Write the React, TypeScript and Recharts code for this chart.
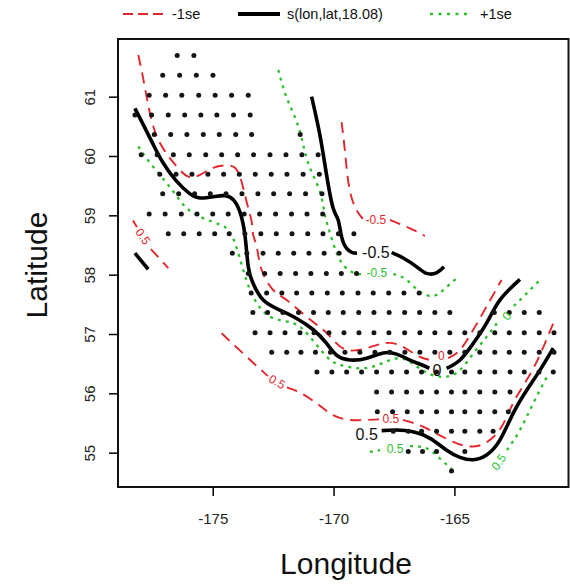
import React from 'react';
import { ComposedChart, XAxis, YAxis, Line, Scatter, ReferenceArea } from 'recharts';

// ---------- data ----------
const xTicks = [-175, -170, -165];
const yTicks = [55, 56, 57, 58, 59, 60, 61];

// survey station rows (latitude of each row, longitudes of stations in that row)
const stationLats = [61.70, 61.37, 61.03, 60.70, 60.37, 60.03, 59.70, 59.37, 59.03, 58.70, 58.37, 58.03, 57.70, 57.37, 57.03, 56.70, 56.37, 56.03, 55.70, 55.37, 55.03, 54.70];
const stationLons: number[][] = [
  [-176.49, -175.80],
  [-177.09, -176.39, -175.70, -175.01],
  [-177.65, -176.97, -176.30, -175.60, -174.92, -174.24, -173.55],
  [-178.24, -177.55, -176.86, -176.18, -175.51, -174.85, -174.16, -173.47],
  [-177.44, -176.76, -176.09, -175.41, -174.75, -174.07, -173.41, -171.40],
  [-177.98, -177.32, -176.65, -175.99, -175.31, -174.65, -173.99, -173.33, -172.65, -171.99, -171.33, -170.66],
  [-177.21, -176.54, -175.88, -175.22, -174.57, -173.92, -173.26, -172.60, -171.95, -171.28, -170.61],
  [-177.09, -176.43, -175.77, -175.12, -174.47, -173.81, -173.15, -172.50, -171.84, -171.18, -170.50],
  [-177.65, -176.99, -176.32, -175.67, -175.02, -174.38, -173.72, -173.08, -172.42, -171.76, -171.12, -170.47],
  [-176.86, -176.22, -175.58, -174.94, -174.34, -173.69, -173.03, -172.39, -171.74, -171.09, -170.46, -169.82, -169.18],
  [-174.21, -173.61, -172.94, -172.31, -171.67, -171.04, -170.41, -169.79],
  [-173.55, -172.87, -172.23, -171.59, -170.96, -170.32, -169.70, -169.07],
  [-173.43, -172.79, -172.16, -171.55, -170.92, -170.28, -169.66, -169.01, -168.38, -167.74, -167.11, -166.48],
  [-173.36, -172.75, -172.12, -171.47, -170.85, -170.24, -169.62, -168.98, -168.35, -167.72, -167.08, -166.46, -165.83, -165.21, -163.37, -162.75, -162.13, -161.51],
  [-173.27, -172.65, -172.03, -171.41, -170.83, -170.21, -169.59, -168.97, -168.35, -167.73, -167.08, -166.45, -165.83, -165.21, -164.59, -163.97, -163.35, -162.75, -162.13, -161.51, -160.90],
  [-172.58, -171.96, -171.37, -170.77, -170.15, -169.55, -168.93, -168.31, -167.69, -167.07, -166.45, -165.83, -165.21, -164.59, -163.97, -163.35, -162.75, -162.13, -161.51, -160.90],
  [-170.71, -170.09, -169.48, -168.86, -168.24, -167.62, -167.00, -166.38, -165.76, -165.14, -164.59, -163.97, -163.35, -162.72, -162.13, -161.52, -160.93],
  [-168.24, -167.62, -167.00, -166.38, -165.76, -165.14, -164.59, -163.97, -163.35, -162.72],
  [-168.21, -167.58, -166.97, -166.38, -165.76, -165.14, -164.59, -163.97, -163.35, -162.79],
  [-167.55, -166.93, -166.38, -165.76, -165.14, -164.59, -163.97, -163.42],
  [-166.93, -166.34, -165.76, -164.59],
  [-165.14],
];

// fitted surface s(lon,lat) contours, [lon, lat]
const fitZeroA = [[-178.24,60.81],[-177.90,60.54],[-177.48,60.20],[-177.07,59.89],[-176.51,59.58],[-175.96,59.37],[-175.55,59.30],[-175.00,59.32],[-174.52,59.34],[-174.17,59.27],[-173.90,59.07],[-173.69,58.68],[-173.55,58.14],[-173.35,57.86],[-172.93,57.58],[-172.24,57.41],[-171.55,57.27],[-170.86,57.08],[-170.31,56.85],[-169.89,56.65],[-169.34,56.57],[-168.65,56.60],[-167.97,56.69],[-167.41,56.67],[-166.86,56.57],[-166.38,56.49],[-166.06,56.43]];
const fitZeroB = [[-165.34,56.43],[-164.79,56.57],[-164.24,56.85],[-163.69,57.19],[-163.14,57.58],[-162.31,57.93]];
const fitMinusHalfA = [[-170.93,61.01],[-170.59,60.37],[-170.31,59.69],[-170.04,59.13],[-169.83,58.93],[-169.69,58.65],[-169.48,58.45],[-169.25,58.38],[-169.05,58.37]];
const fitMinusHalfB = [[-167.62,58.38],[-167.14,58.29],[-166.58,58.14],[-166.17,58.03],[-165.76,58.04],[-165.45,58.14]];
const fitHalfWest = [[-178.24,58.37],[-177.69,58.10]];
const fitHalfSouth = [[-168.03,55.38],[-167.41,55.39],[-166.73,55.36],[-166.03,55.25],[-165.34,55.05],[-164.79,54.93],[-164.24,54.89],[-163.69,54.97],[-163.14,55.22],[-162.59,55.67],[-162.03,56.06],[-161.48,56.40],[-160.93,56.77]];

// -1se contours
const lowerZeroA = [[-178.10,61.71],[-177.90,61.32],[-177.69,60.87],[-177.41,60.42],[-177.00,60.09],[-176.51,59.83],[-176.03,59.66],[-175.55,59.69],[-175.00,59.81],[-174.52,59.85],[-174.10,59.81],[-173.83,59.58],[-173.62,59.24],[-173.41,58.90],[-173.35,58.68],[-173.20,58.48],[-173.00,58.09],[-172.52,57.75],[-171.96,57.58],[-171.14,57.30],[-170.45,57.08],[-170.04,56.91],[-169.48,56.74],[-168.65,56.77],[-167.97,56.85],[-167.28,56.82],[-166.58,56.65],[-166.03,56.57]];
const lowerZeroB = [[-165.28,56.60],[-164.79,56.74],[-164.24,57.08],[-163.69,57.47],[-163.07,57.92]];
const lowerMinusHalfA = [[-169.69,60.58],[-169.55,60.09],[-169.34,59.41],[-169.00,59.05],[-168.81,58.95]];
const lowerMinusHalfB = [[-167.69,58.93],[-166.86,58.79],[-166.24,58.66]];
const lowerHalfWestA = [[-178.32,58.92],[-178.16,58.81]];
const lowerHalfWestB = [[-177.58,58.44],[-176.86,58.12]];
const lowerHalfSouthA = [[-174.65,57.02],[-173.76,56.68],[-172.93,56.37],[-172.74,56.30]];
const lowerHalfSouthB = [[-171.95,56.11],[-171.41,56.02],[-170.72,55.84],[-170.04,55.64],[-169.34,55.56],[-168.65,55.56],[-168.10,55.57]];
const lowerHalfSouthC = [[-167.15,55.56],[-166.45,55.47],[-165.76,55.33],[-165.07,55.19],[-164.52,55.12],[-163.90,55.14],[-163.27,55.33],[-162.86,55.61],[-162.45,55.95],[-161.86,56.35],[-161.36,56.77],[-160.93,57.19]];

// +1se contours
const upperZeroA = [[-178.10,60.17],[-177.76,59.97],[-177.21,59.69],[-176.65,59.41],[-176.10,59.13],[-175.41,58.96],[-174.72,58.85],[-174.38,58.76],[-174.10,58.54],[-173.76,58.09],[-173.35,57.64],[-172.65,57.30],[-171.69,57.19],[-171.00,56.96],[-170.31,56.63],[-169.76,56.49],[-168.93,56.43],[-168.10,56.50],[-167.28,56.60],[-166.58,56.46],[-165.96,56.32],[-165.34,56.29],[-164.79,56.40],[-164.24,56.68],[-163.69,56.96],[-163.22,57.21]];
const upperZeroB = [[-162.56,57.48],[-162.31,57.58],[-161.48,57.92]];
const upperMinusHalfA = [[-172.31,61.46],[-171.96,60.99],[-171.55,60.59],[-171.28,60.20],[-171.00,59.81],[-170.59,59.41],[-170.38,59.02],[-170.17,58.71],[-169.89,58.37],[-169.55,58.14],[-169.14,58.03],[-168.85,58.02]];
const upperMinusHalfB = [[-167.55,58.02],[-167.00,57.92],[-166.45,57.72],[-165.90,57.65],[-165.48,57.75],[-164.93,57.95]];
const upperHalfSouthA = [[-168.52,55.02],[-168.10,55.05]];
const upperHalfSouthB = [[-166.86,55.12],[-166.17,55.08],[-165.62,54.91],[-165.07,54.71]];
const upperHalfEast = [[-162.85,55.05],[-162.31,55.39],[-161.76,55.84],[-161.15,56.32]];

// contour labels: [lon, lat, text]
const fitLabels: [number, number, string][] = [[-168.27, 58.38, '-0.5'], [-165.74, 56.39, '0'], [-168.65, 55.32, '0.5']];
const lowerLabels: [number, number, string][] = [[-168.27, 58.93, '-0.5'], [-165.56, 56.63, '0'], [-167.65, 55.57, '0.5'], [-172.36, 56.20, '0.5'], [-177.91, 58.65, '0.5']];
const upperLabels: [number, number, string][] = [[-168.23, 58.04, '-0.5'], [-162.85, 57.31, '0'], [-167.48, 55.07, '0.5'], [-163.18, 54.85, '0.5']];

const legendNames = ['-1se', 's(lon,lat,18.08)', '+1se'];

// ---------- styles ----------
const FONT = "'Liberation Sans', Arial, Helvetica, sans-serif";
const RED = '#e3262b';
const GREEN = '#2cbf2c';
const lineStyle: Record<string, any> = {
  fit: { stroke: '#000', strokeWidth: 3.6 },
  lower: { stroke: RED, strokeWidth: 1.9, strokeDasharray: '11 7' },
  upper: { stroke: GREEN, strokeWidth: 2.3, strokeDasharray: '3 5' },
};
const labelStyle: Record<string, any> = {
  fit: { fill: '#111', size: 16 },
  lower: { fill: RED, size: 12 },
  upper: { fill: GREEN, size: 12 },
};
const lowerLabelAngles = [0, 0, 0, 30, 55];
const upperLabelAngles = [0, -50, 0, -55];

const toPts = (arr: number[][]) => arr.map(([lon, lat]) => ({ lon, lat }));

const stations = stationLats.flatMap((lat, i) => stationLons[i].map((lon) => ({ lon, lat })));

const contours: { kind: string; pts: number[][] }[] = [
  { kind: 'lower', pts: lowerZeroA }, { kind: 'lower', pts: lowerZeroB },
  { kind: 'lower', pts: lowerMinusHalfA }, { kind: 'lower', pts: lowerMinusHalfB },
  { kind: 'lower', pts: lowerHalfWestA }, { kind: 'lower', pts: lowerHalfWestB },
  { kind: 'lower', pts: lowerHalfSouthA }, { kind: 'lower', pts: lowerHalfSouthB }, { kind: 'lower', pts: lowerHalfSouthC },
  { kind: 'upper', pts: upperZeroA }, { kind: 'upper', pts: upperZeroB },
  { kind: 'upper', pts: upperMinusHalfA }, { kind: 'upper', pts: upperMinusHalfB },
  { kind: 'upper', pts: upperHalfSouthA }, { kind: 'upper', pts: upperHalfSouthB }, { kind: 'upper', pts: upperHalfEast },
  { kind: 'fit', pts: fitZeroA }, { kind: 'fit', pts: fitZeroB },
  { kind: 'fit', pts: fitMinusHalfA }, { kind: 'fit', pts: fitMinusHalfB },
  { kind: 'fit', pts: fitHalfWest }, { kind: 'fit', pts: fitHalfSouth },
];

const labels = [
  ...fitLabels.map(([lon, lat, text]) => ({ lon, lat, text, kind: 'fit', angle: 0 })),
  ...lowerLabels.map(([lon, lat, text], i) => ({ lon, lat, text, kind: 'lower', angle: lowerLabelAngles[i] })),
  ...upperLabels.map(([lon, lat, text], i) => ({ lon, lat, text, kind: 'upper', angle: upperLabelAngles[i] })),
];

const LON_MIN = -178.94, LON_MAX = -160.30, LAT_MIN = 54.43, LAT_MAX = 61.98;

const StationDot = (p: any) => <circle cx={p.cx} cy={p.cy} r={2.5} fill="#151515" />;

const LabelShape = (p: any) => {
  const { cx, cy, payload } = p;
  const st = labelStyle[payload.kind];
  return (
    <text x={cx} y={cy} fill={st.fill} fontSize={st.size} fontFamily={FONT} textAnchor="middle" dominantBaseline="central"
      transform={payload.angle ? `rotate(${payload.angle} ${cx} ${cy})` : undefined}>
      {payload.text}
    </text>
  );
};

const YTick = (p: any) => {
  const { x, y, payload } = p;
  return (
    <text x={x} y={y} transform={`rotate(-90 ${x} ${y})`} textAnchor="middle" fontSize={15} fill="#222" fontFamily={FONT}>
      {payload.value}
    </text>
  );
};

export default function App() {
  return (
    <div style={{ position: 'absolute', left: 0, top: 0, width: 570, height: 584, background: '#fff' }}>
      <ComposedChart width={570} height={584} margin={{ top: 39, right: 1.5, bottom: 37, left: 58 }}>
        <XAxis type="number" dataKey="lon" domain={[LON_MIN, LON_MAX]} allowDataOverflow ticks={xTicks}
          height={60} tickSize={9} tickMargin={17} axisLine={false}
          tickLine={{ stroke: '#000', strokeWidth: 1.5 }}
          tick={{ fontSize: 15, fill: '#222', fontFamily: FONT }} />
        <YAxis type="number" dataKey="lat" domain={[LAT_MIN, LAT_MAX]} allowDataOverflow ticks={yTicks}
          width={60} tickSize={9} tickMargin={14} axisLine={false}
          tickLine={{ stroke: '#000', strokeWidth: 1.5 }} tick={<YTick />} />
        <ReferenceArea x1={LON_MIN} x2={LON_MAX} y1={LAT_MIN} y2={LAT_MAX} fill="none" fillOpacity={0}
          stroke="#111" strokeWidth={2} />
        <Scatter data={stations} dataKey="lat" shape={<StationDot />} isAnimationActive={false} />
        {contours.map((c, i) => (
          <Line key={i} data={toPts(c.pts)} dataKey="lat" type="natural" dot={false} activeDot={false}
            isAnimationActive={false} fill="none" {...lineStyle[c.kind]} strokeLinecap="butt" />
        ))}
        <Scatter data={labels} dataKey="lat" shape={<LabelShape />} isAnimationActive={false} />
      </ComposedChart>
      <svg width={570} height={584} style={{ position: 'absolute', left: 0, top: 0, pointerEvents: 'none' }}>
        <line x1={123} y1={14} x2={163} y2={14} stroke={RED} strokeWidth={2} strokeDasharray="10 5" />
        <text x={172} y={19} fontSize={14.5} fontFamily={FONT} fill="#111">{legendNames[0]}</text>
        <line x1={238} y1={14} x2={280} y2={14} stroke="#000" strokeWidth={4} />
        <text x={287} y={19} fontSize={14.5} fontFamily={FONT} fill="#111">{legendNames[1]}</text>
        <line x1={430} y1={14} x2={468} y2={14} stroke={GREEN} strokeWidth={2.3} strokeDasharray="3 5.5" />
        <text x={480} y={19} fontSize={14.5} fontFamily={FONT} fill="#111">{legendNames[2]}</text>
        <text x={346} y={574} fontSize={30} fontFamily={FONT} fill="#111" textAnchor="middle">Longitude</text>
        <text x={47} y={265} fontSize={30} fontFamily={FONT} fill="#111" textAnchor="middle" transform="rotate(-90 47 265)">Latitude</text>
      </svg>
    </div>
  );
}
